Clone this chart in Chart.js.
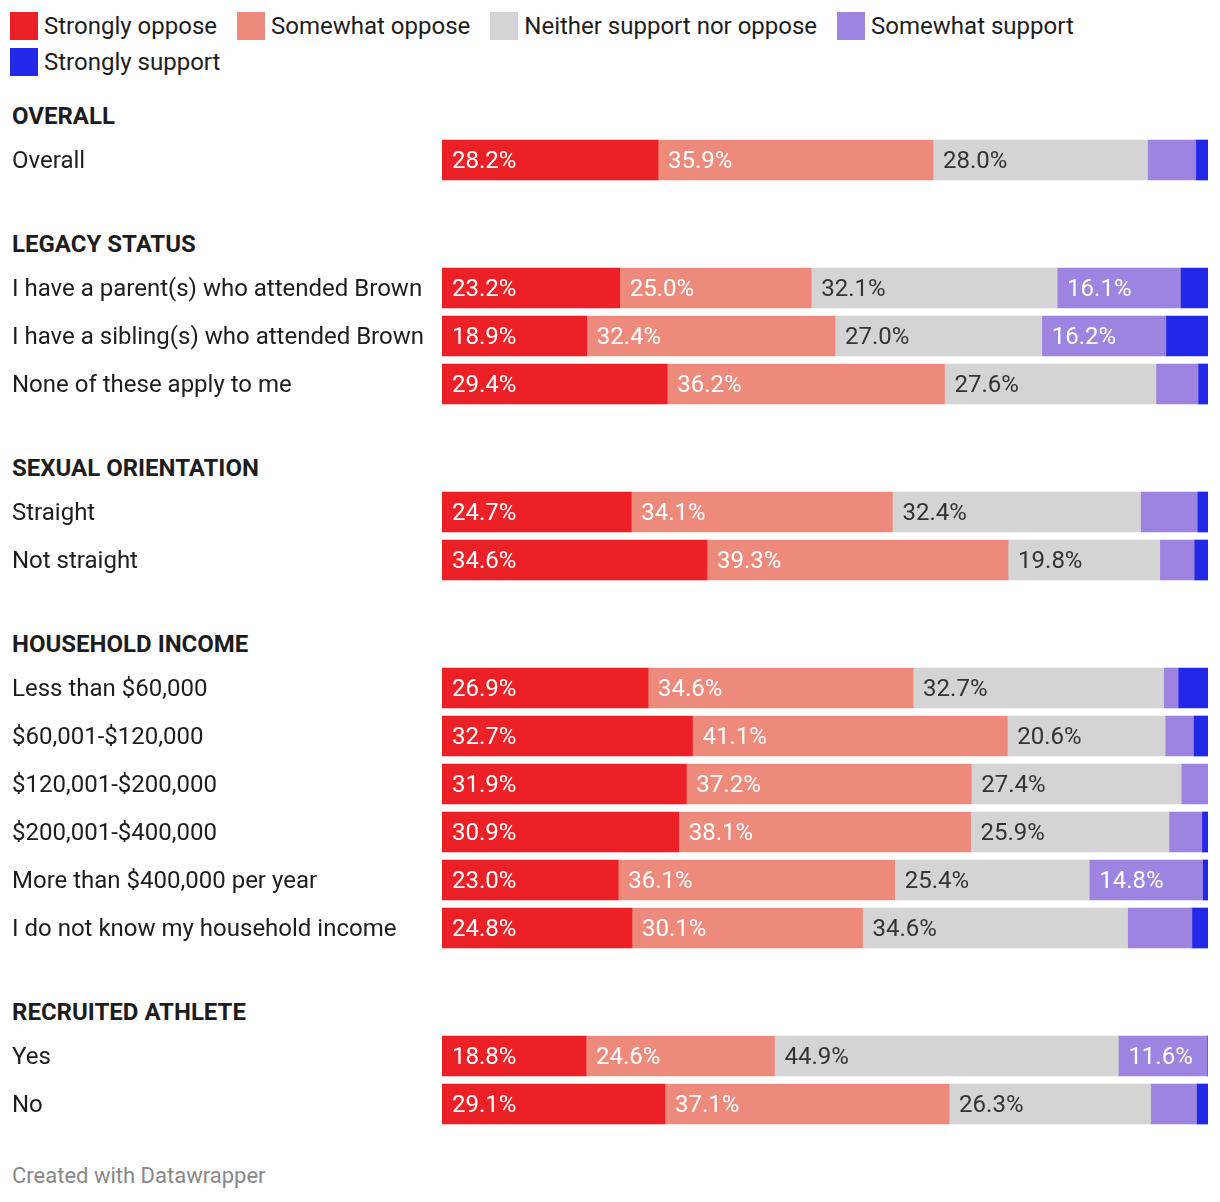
<!DOCTYPE html>
<html>
<head>
<meta charset="utf-8">
<script src="https://cdn.jsdelivr.net/npm/chart.js@4"></script>
<style>
    body { margin: 0; background: #fff; font-family: Roboto, sans-serif; color: #1d1d1d; width: 1220px; }
    .legend { display: flex; flex-wrap: wrap; padding: 8px 0 0 10px; width: 1100px; }
    .legend-item { display: flex; align-items: center; height: 36px; margin-right: 20px; font-size: 24px; }
    .legend-item span.box { width: 28px; height: 28px; margin-right: 6px; display: inline-block; }
    .group-head { height: 40px; line-height: 40px; padding-left: 12px; font-size: 24px; font-weight: 700; }
    .group { margin-top: 40px; }
    .group:first-of-type { margin-top: 16px; }
    .chart-box { position: relative; width: 1220px; }
    .footer { padding-left: 12px; margin-top: 35px; font-size: 22px; color: #888; }
</style>
</head>
<body>
<div class="legend" id="legend"></div>
<div id="groups"></div>
<div class="footer">Created with Datawrapper</div>

<script>
// Data
const seriesNames = ['Strongly oppose', 'Somewhat oppose', 'Neither support nor oppose', 'Somewhat support', 'Strongly support'];
const seriesColors = ['#ec2128', '#ee8a7b', '#d4d4d4', '#9c84e0', '#2128e8'];

const groupNames = ['OVERALL', 'LEGACY STATUS', 'SEXUAL ORIENTATION', 'HOUSEHOLD INCOME', 'RECRUITED ATHLETE'];
const groupSizes = [1, 3, 2, 6, 2];

const categories = [
    'Overall',
    'I have a parent(s) who attended Brown',
    'I have a sibling(s) who attended Brown',
    'None of these apply to me',
    'Straight',
    'Not straight',
    'Less than $60,000',
    '$60,001-$120,000',
    '$120,001-$200,000',
    '$200,001-$400,000',
    'More than $400,000 per year',
    'I do not know my household income',
    'Yes',
    'No'
];

const stronglyOppose  = [28.2, 23.2, 18.9, 29.4, 24.7, 34.6, 26.9, 32.7, 31.9, 30.9, 23.0, 24.8, 18.8, 29.1];
const somewhatOppose  = [35.9, 25.0, 32.4, 36.2, 34.1, 39.3, 34.6, 41.1, 37.2, 38.1, 36.1, 30.1, 24.6, 37.1];
const neither         = [28.0, 32.1, 27.0, 27.6, 32.4, 19.8, 32.7, 20.6, 27.4, 25.9, 25.4, 34.6, 44.9, 26.3];
const somewhatSupport = [6.3, 16.1, 16.2, 5.5, 7.4, 4.5, 1.9, 3.7, 3.5, 4.3, 14.8, 8.4, 11.6, 6.0];
const stronglySupport = [1.6, 3.6, 5.5, 1.3, 1.4, 1.8, 3.9, 1.9, 0.0, 0.8, 0.7, 2.1, 0.1, 1.5];

const allSeries = [stronglyOppose, somewhatOppose, neither, somewhatSupport, stronglySupport];

// Legend
const legendEl = document.getElementById('legend');
seriesNames.forEach((name, i) => {
    const item = document.createElement('div');
    item.className = 'legend-item';
    item.innerHTML = `<span class="box" style="background:${seriesColors[i]}"></span>${name}`;
    legendEl.appendChild(item);
});

Chart.defaults.font.family = "Roboto, sans-serif";
Chart.defaults.font.size = 24;
Chart.defaults.color = '#1d1d1d';

// draws the value text inside each bar segment
const valueLabels = {
    id: 'valueLabels',
    afterDatasetsDraw(chart) {
        const ctx = chart.ctx;
        ctx.save();
        ctx.font = '24px Roboto, sans-serif';
        ctx.textAlign = 'left';
        ctx.textBaseline = 'middle';
        chart.data.datasets.forEach((ds, di) => {
            const meta = chart.getDatasetMeta(di);
            meta.data.forEach((bar, i) => {
                const v = ds.data[i];
                if (v < 10) return;
                ctx.fillStyle = di === 2 ? '#333333' : '#ffffff';
                ctx.fillText(v.toFixed(1) + '%', Math.min(bar.x, bar.base) + 10, bar.y + 2);
            });
        });
        ctx.restore();
    }
};

const groupsEl = document.getElementById('groups');
let start = 0;
groupNames.forEach((gName, g) => {
    const n = groupSizes[g];
    const wrap = document.createElement('div');
    wrap.className = 'group';
    wrap.innerHTML = `<div class="group-head">${gName}</div>`;
    const box = document.createElement('div');
    box.className = 'chart-box';
    box.style.height = (n * 48) + 'px';
    const canvas = document.createElement('canvas');
    box.appendChild(canvas);
    wrap.appendChild(box);
    groupsEl.appendChild(wrap);

    const labels = categories.slice(start, start + n);
    const datasets = allSeries.map((arr, i) => ({
        label: seriesNames[i],
        data: arr.slice(start, start + n),
        backgroundColor: seriesColors[i],
        borderWidth: 0,
        barThickness: 40
    }));
    start += n;

    new Chart(canvas, {
        type: 'bar',
        data: { labels, datasets },
        options: {
            indexAxis: 'y',
            responsive: true,
            maintainAspectRatio: false,
            animation: false,
            layout: { padding: { left: 12, right: 12, top: 0, bottom: 0 } },
            plugins: { legend: { display: false }, tooltip: { enabled: false } },
            scales: {
                x: { stacked: true, min: 0, max: 100, display: false },
                y: {
                    stacked: true,
                    grid: { display: false },
                    border: { display: false },
                    ticks: { crossAlign: 'far', labelOffset: 2, color: '#1d1d1d', font: { size: 24 } },
                    afterFit(scale) {
                        scale.width = 430;
                        scale.paddingTop = 0;
                        scale.paddingBottom = 0;
                    }
                }
            }
        },
        plugins: [valueLabels]
    });
});
</script>
</body>
</html>
